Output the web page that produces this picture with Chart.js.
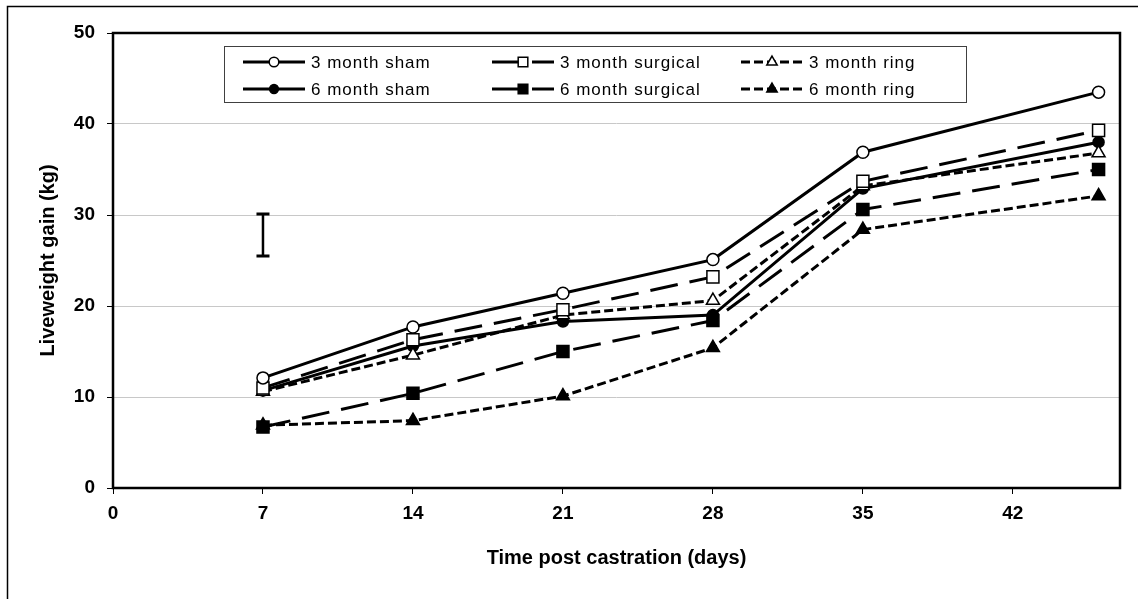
<!DOCTYPE html>
<html>
<head>
<meta charset="utf-8">
<script src="https://cdn.jsdelivr.net/npm/chart.js@4"></script>
<style>
  html, body { margin: 0; padding: 0; background: #fff; }
  #wrap { width: 1138px; height: 599px; }
</style>
</head>
<body>
<div id="wrap"><canvas id="chart" width="1138" height="599"></canvas></div>
<script>
// datos
const days = [7, 14, 21, 28, 35, 46];
const xTicks = [0, 7, 14, 21, 28, 35, 42];
const yTicks = [0, 10, 20, 30, 40, 50];

const sham3 = [12.1, 17.7, 21.4, 25.1, 36.9, 43.5];
const surg3 = [11.0, 16.3, 19.6, 23.2, 33.7, 39.3];
const ring3 = [10.6, 14.6, 19.0, 20.6, 33.2, 36.8];
const sham6 = [10.7, 15.6, 18.3, 19.0, 32.9, 38.0];
const surg6 = [6.7, 10.4, 15.0, 18.4, 30.6, 35.0];
const ring6 = [6.9, 7.4, 10.1, 15.4, 28.4, 32.1];

// barra de error (LSD) en dia 7
const errX = 7;
const errLow = 25.5;
const errHigh = 30.1;

const FONT = "'Liberation Sans', Arial, sans-serif";

function serie(label, values, style) {
  return {
    label: label,
    data: days.map((d, i) => ({ x: d, y: values[i] })),
    borderColor: "#000",
    borderWidth: 3,
    borderDash: style.dash,
    pointStyle: style.point,
    pointRadius: style.radius,
    pointHoverRadius: style.radius,
    pointBackgroundColor: style.open ? "#fff" : "#000",
    pointBorderColor: "#000",
    pointBorderWidth: 1.5,
    fill: false,
    tension: 0
  };
}

const solid = [];
const longDash = [28, 12];
const shortDash = [9, 4];

const datasets = [
  serie("3 month sham", sham3, { dash: solid, point: "circle", radius: 6, open: true }),
  serie("3 month surgical", surg3, { dash: longDash, point: "rect", radius: 8.5, open: true }),
  serie("3 month ring", ring3, { dash: shortDash, point: "triangle", radius: 7.5, open: true }),
  serie("6 month sham", sham6, { dash: solid, point: "circle", radius: 5.5, open: false }),
  serie("6 month surgical", surg6, { dash: longDash, point: "rect", radius: 8.5, open: false }),
  serie("6 month ring", ring6, { dash: shortDash, point: "triangle", radius: 7.5, open: false })
];

// fondo blanco y borde exterior
const fondo = {
  id: "fondo",
  beforeDraw(chart) {
    const ctx = chart.ctx;
    ctx.save();
    ctx.fillStyle = "#fff";
    ctx.fillRect(0, 0, chart.width, chart.height);
    ctx.strokeStyle = "#000";
    ctx.lineWidth = 1.5;
    ctx.beginPath();
    ctx.moveTo(7.5, chart.height + 2);
    ctx.lineTo(7.5, 6.5);
    ctx.lineTo(chart.width + 2, 6.5);
    ctx.stroke();
    ctx.restore();
  }
};

// marco del area del grafico + barra de error
const marco = {
  id: "marco",
  beforeDatasetsDraw(chart) {
    const { ctx, chartArea: a, scales } = chart;
    ctx.save();
    ctx.strokeStyle = "#000";
    ctx.lineWidth = 2.5;
    ctx.strokeRect(a.left, a.top, a.right - a.left, a.bottom - a.top);

    const x = scales.x.getPixelForValue(errX);
    const y1 = scales.y.getPixelForValue(errLow);
    const y2 = scales.y.getPixelForValue(errHigh);
    ctx.lineWidth = 2.5;
    ctx.beginPath();
    ctx.moveTo(x, y1);
    ctx.lineTo(x, y2);
    ctx.stroke();
    ctx.lineWidth = 3;
    ctx.beginPath();
    ctx.moveTo(x - 6.5, y1);
    ctx.lineTo(x + 6.5, y1);
    ctx.moveTo(x - 6.5, y2);
    ctx.lineTo(x + 6.5, y2);
    ctx.stroke();
    ctx.restore();
  }
};

// leyenda dibujada a mano dentro del grafico
const leyenda = {
  id: "leyenda",
  afterDraw(chart) {
    const ctx = chart.ctx;
    const box = { x: 224, y: 46, w: 742, h: 56 };
    ctx.save();
    ctx.strokeStyle = "#404040";
    ctx.lineWidth = 1;
    ctx.fillStyle = "#fff";
    ctx.fillRect(box.x, box.y, box.w, box.h);
    ctx.strokeRect(box.x + 0.5, box.y + 0.5, box.w, box.h);

    chart.data.datasets.forEach((ds, i) => {
      const col = i % 3;
      const row = Math.floor(i / 3);
      const x0 = 243 + col * 249;
      const y = 62 + row * 27;
      ctx.strokeStyle = "#000";
      ctx.lineWidth = 3;
      ctx.setLineDash(ds.borderDash || []);
      ctx.beginPath();
      ctx.moveTo(x0, y);
      ctx.lineTo(x0 + 62, y);
      ctx.stroke();
      ctx.setLineDash([]);
      ctx.fillStyle = ds.pointBackgroundColor;
      ctx.strokeStyle = "#000";
      ctx.lineWidth = 1.5;
      Chart.helpers.drawPoint(ctx, { pointStyle: ds.pointStyle, radius: ds.pointRadius * 0.8, rotation: 0, borderWidth: 1.5 }, x0 + 31, y);

      ctx.fillStyle = "#000";
      ctx.font = "17px " + FONT;
      ctx.letterSpacing = "1px";
      ctx.textBaseline = "middle";
      ctx.textAlign = "left";
      ctx.fillText(ds.label, x0 + 68, y + 1);
    });
    ctx.restore();
  }
};

new Chart(document.getElementById("chart"), {
  type: "line",
  data: { datasets: datasets },
  plugins: [fondo, marco, leyenda],
  options: {
    responsive: false,
    animation: false,
    events: [],
    layout: { padding: { left: 0, top: 33, right: 18, bottom: 0 } },
    plugins: {
      legend: { display: false },
      tooltip: { enabled: false }
    },
    scales: {
      x: {
        type: "linear",
        min: 0,
        max: 47,
        afterBuildTicks(scale) {
          scale.ticks = xTicks.map(v => ({ value: v }));
        },
        afterFit(scale) { scale.height = 111; },
        border: { display: false },
        grid: {
          drawOnChartArea: false,
          drawTicks: true,
          tickLength: 6,
          tickColor: "#000",
          tickWidth: 1
        },
        ticks: {
          color: "#000",
          padding: 8,
          maxRotation: 0,
          font: { family: FONT, size: 19, weight: "bold" }
        },
        title: {
          display: true,
          text: "Time post castration (days)",
          color: "#000",
          padding: { top: 0, bottom: 29 },
          font: { family: FONT, size: 20, weight: "bold" }
        }
      },
      y: {
        min: 0,
        max: 50,
        afterBuildTicks(scale) {
          scale.ticks = yTicks.map(v => ({ value: v }));
        },
        afterFit(scale) { scale.width = 113; },
        border: { display: false },
        grid: {
          color: "#c8c8c8",
          lineWidth: 1,
          drawTicks: true,
          tickLength: 6,
          tickColor: "#000",
          tickWidth: 1
        },
        ticks: {
          color: "#000",
          padding: 12,
          font: { family: FONT, size: 19, weight: "bold" }
        },
        title: {
          display: true,
          text: "Liveweight gain (kg)",
          color: "#000",
          padding: { top: 36, bottom: 0 },
          font: { family: FONT, size: 20, weight: "bold" }
        }
      }
    }
  }
});
</script>
</body>
</html>
